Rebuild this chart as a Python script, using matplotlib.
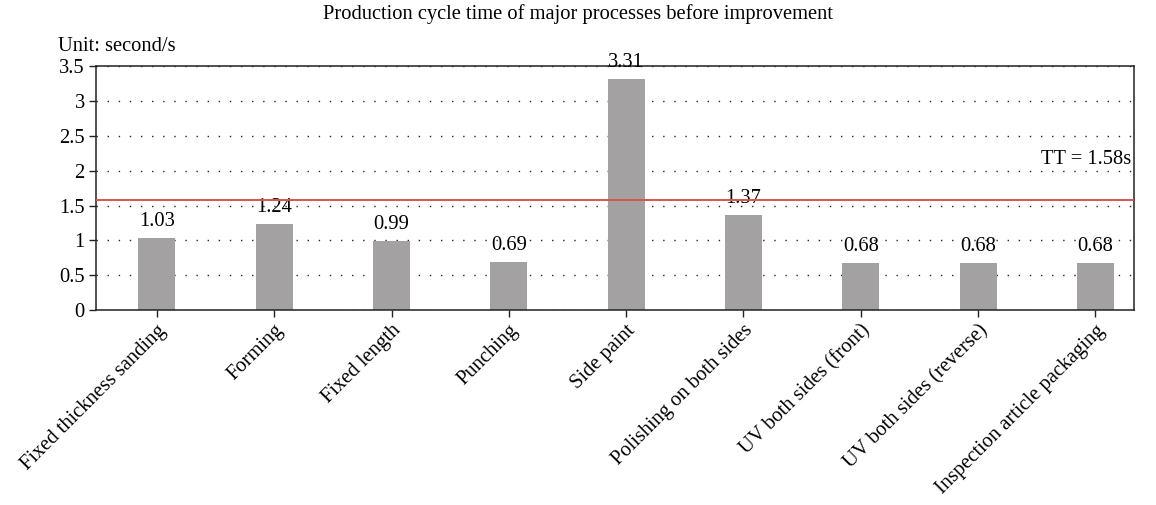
import matplotlib
matplotlib.use("Agg")
import matplotlib.pyplot as plt

# --- Data ---
processes = [
    "Fixed thickness sanding",
    "Forming",
    "Fixed length",
    "Punching",
    "Side paint",
    "Polishing on both sides",
    "UV both sides (front)",
    "UV both sides (reverse)",
    "Inspection article packaging",
]
cycle_times = [1.03, 1.24, 0.99, 0.69, 3.31, 1.37, 0.68, 0.68, 0.68]
takt_time = 1.58
y_ticks = [0, 0.5, 1, 1.5, 2, 2.5, 3, 3.5]
y_tick_labels = ["0", "0.5", "1", "1.5", "2", "2.5", "3", "3.5"]

BAR_COLOR = "#a3a1a2"
LINE_COLOR = "#d9534f"

plt.rcParams["font.family"] = ["Liberation Serif", "DejaVu Serif"]
plt.rcParams["font.size"] = 14.8

fig = plt.figure(figsize=(11.56, 5.05), dpi=100)
ax = fig.add_axes([0.083, 0.386, 0.898, 0.483])

x = list(range(len(processes)))
bars = ax.bar(x, cycle_times, width=0.315, color=BAR_COLOR, zorder=2)

# value labels on top of each bar
for xi, v in zip(x, cycle_times):
    ax.annotate(f"{v:.2f}", (xi, v), xytext=(0, 5), textcoords="offset points",
                ha="center", va="bottom", zorder=3)

# takt time reference line
ax.axhline(takt_time, color=LINE_COLOR, linewidth=1.4, zorder=4)
ax.text(8.31, 2.02, f"TT = {takt_time}s", ha="right", va="bottom")

ax.set_xlim(-0.52, 8.33)
ax.set_ylim(0, 3.5)
ax.set_yticks(y_ticks)
ax.set_yticklabels(y_tick_labels)
ax.yaxis.grid(True, linestyle=(0, (1, 7)), color="#222222", linewidth=1.0, zorder=1)
ax.set_axisbelow(True)

ax.set_xticks(x)
ax.set_xticklabels(processes, rotation=45, ha="right", rotation_mode="anchor")
ax.tick_params(axis="both", direction="out", length=5, width=1, color="#222222")
ax.tick_params(axis="x", pad=3)
ax.tick_params(axis="y", pad=3)
for s in ax.spines.values():
    s.set_linewidth(1.1)
    s.set_color("#222222")

fig.text(0.5, 0.992, "Production cycle time of major processes before improvement",
         ha="center", va="top")
fig.text(0.050, 0.89, "Unit: second/s", ha="left", va="bottom")

fig.savefig("out.png", dpi=100)
